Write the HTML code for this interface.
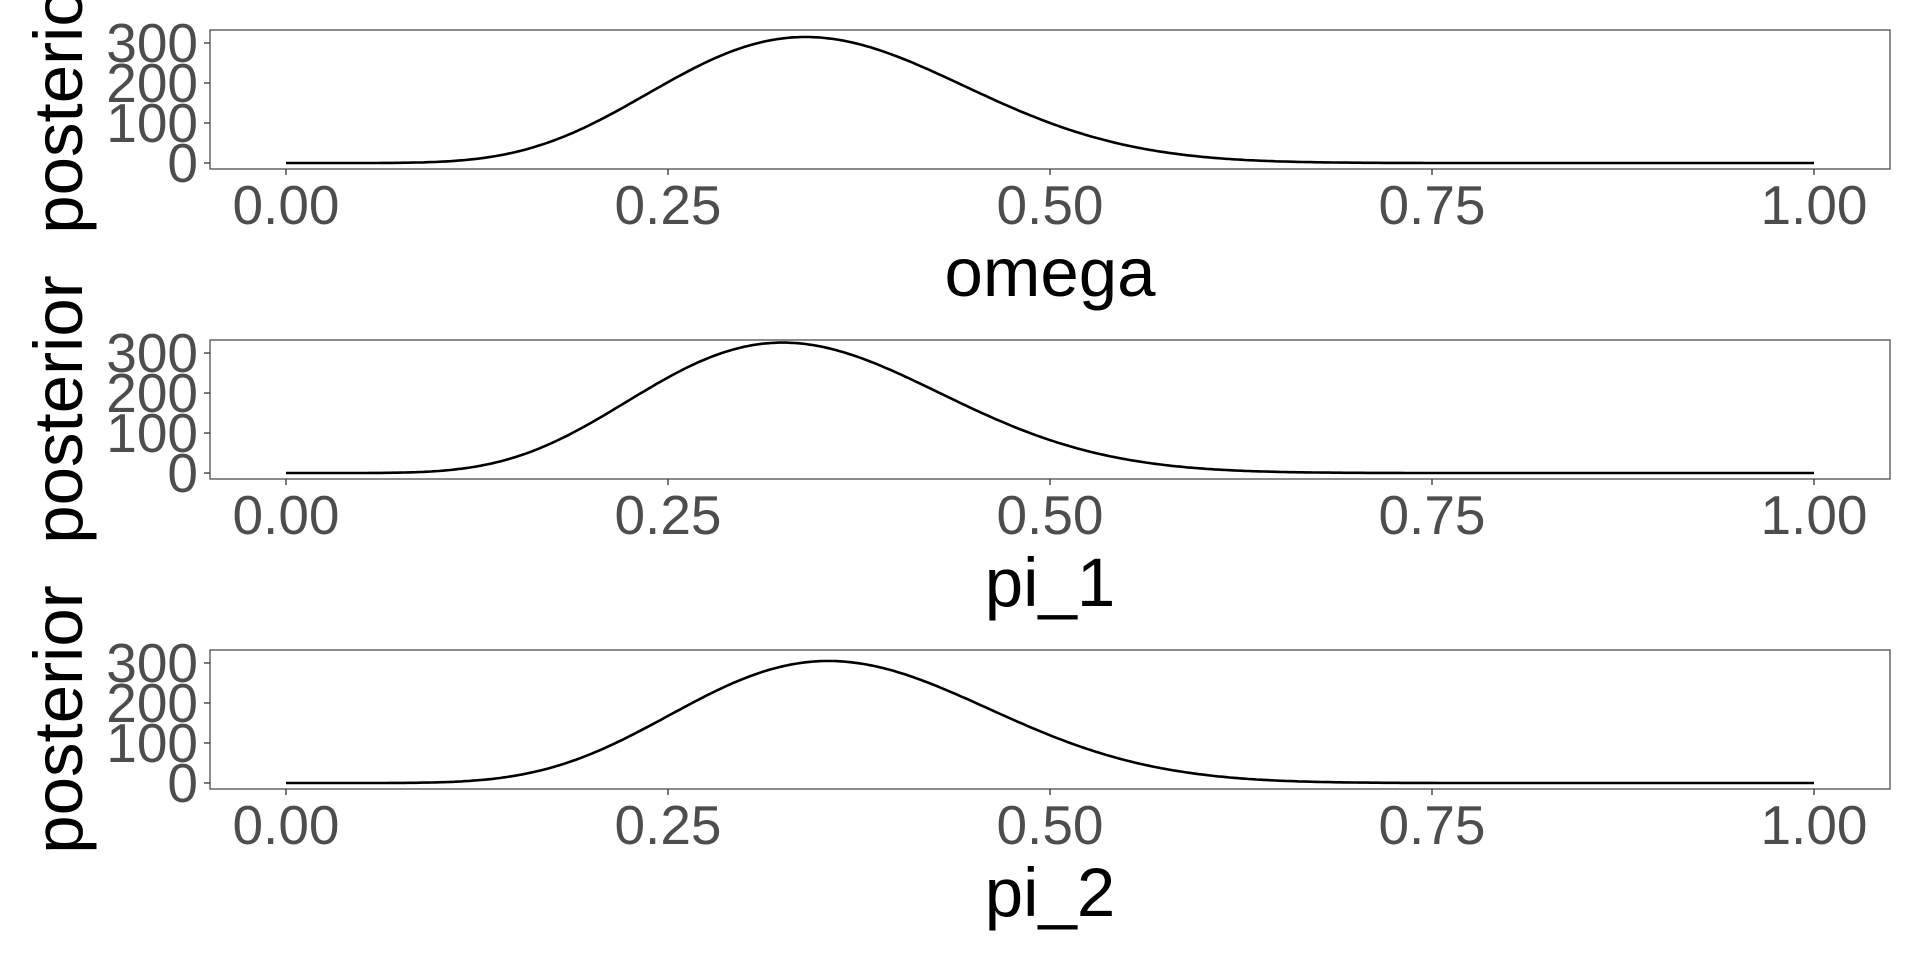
<!DOCTYPE html>
<html><head><style>
html,body{margin:0;padding:0;background:#fff;}
svg text{font-family:"Liberation Sans",Arial,sans-serif;}
</style></head><body>
<svg id="s" width="1920" height="960" xmlns="http://www.w3.org/2000/svg"></svg>
<script>
const s=document.getElementById('s');
const panels=[{top:30,name:'omega',mode:0.34,peak:315,n:22},{top:340,name:'pi_1',mode:0.325,peak:326,n:22},{top:650,name:'pi_2',mode:0.355,peak:305,n:22}];
let h='';
const L=210,R=1890,H=139,x0=286,xs=1528;
panels.forEach(p=>{
 const t=p.top,b=t+H,y0=b-6,ys=0.4;
 h+=`<rect x="${L}" y="${t}" width="${R-L}" height="${H}" fill="none" stroke="#4d4d4d" stroke-width="1.3"/>`;
 [0,100,200,300].forEach(v=>{const y=y0-v*ys;
  h+=`<line x1="${L-6}" x2="${L}" y1="${y}" y2="${y}" stroke="#333" stroke-width="1.3"/>`;
  h+=`<text x="${L-12}" y="${y+19}" text-anchor="end" font-size="55" fill="#4d4d4d">${v}</text>`;});
 ['0.00','0.25','0.50','0.75','1.00'].forEach((l,i)=>{const x=x0+i*0.25*xs;
  h+=`<line x1="${x}" x2="${x}" y1="${b}" y2="${b+6}" stroke="#333" stroke-width="1.3"/>`;
  h+=`<text x="${x}" y="${b+55}" text-anchor="middle" font-size="55" fill="#4d4d4d">${l}</text>`;});
 h+=`<text x="${(L+R)/2}" y="${b+127}" text-anchor="middle" font-size="69" fill="#000">${p.name}</text>`;
 const cy=t+H/2;
 h+=`<text transform="translate(82,${cy}) rotate(-90)" text-anchor="middle" font-size="69" fill="#000">posterior</text>`;
 const a=p.mode*p.n+1,bb=(1-p.mode)*p.n+1;
 const f=x=>Math.exp((a-1)*Math.log(Math.max(x,1e-12))+(bb-1)*Math.log(Math.max(1-x,1e-12)));
 const fm=f(p.mode);let d='';
 for(let i=0;i<=400;i++){const x=i/400;const v=p.peak*f(x)/fm;
  d+=(i?'L':'M')+(x0+x*xs).toFixed(1)+','+(y0-v*ys).toFixed(1);}
 h+=`<path d="${d}" fill="none" stroke="#000" stroke-width="2.6"/>`;
});
s.innerHTML=h;
</script>
</body></html>
